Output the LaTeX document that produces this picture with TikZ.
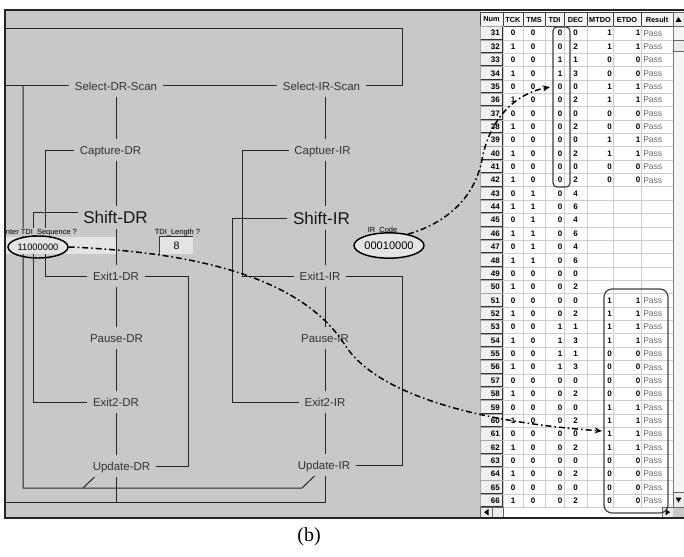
\documentclass[tikz,border=0pt]{standalone}
\usepackage{fontspec}
\setmainfont{Liberation Sans}
\newfontfamily\capfont{Liberation Serif}
\usetikzlibrary{positioning,arrows.meta,shapes.geometric,calc}

\definecolor{panel}{RGB}{200,200,200}
\definecolor{frameclr}{RGB}{35,35,35}
\definecolor{fieldclr}{RGB}{228,228,228}
\definecolor{gridclr}{RGB}{205,205,205}
\definecolor{passclr}{RGB}{105,105,105}

\begin{document}
\begin{tikzpicture}[
        x=0.75pt, y=-0.75pt,
        >={Stealth[length=5.5pt,width=4.5pt]},
        state/.style={inner xsep=4pt, inner ysep=0pt, minimum height=16pt,
                      text height=6.2pt, text depth=0pt,
                      font=\fontsize{8.6}{10}\selectfont, text=black!80},
        bigstate/.style={state, minimum height=17pt, text height=9.2pt,
                      font=\fontsize{12.8}{14}\selectfont, text=black!90},
        wire/.style={draw=black!85, line width=0.75pt},
        flow/.style={line width=1.1pt, dash pattern=on 4.5pt off 2.2pt on 1.2pt off 2.2pt},
        hint/.style={inner sep=0.5pt, font=\fontsize{5.6}{6}\selectfont},
        field/.style={fill=fieldclr, inner sep=0pt, minimum height=12.75pt},
        code/.style={ellipse, draw, line width=1.1pt, inner sep=0pt},
        hdr/.style={font=\fontsize{5.5}{6}\bfseries\selectfont, inner sep=0pt},
        cell/.style={font=\fontsize{6}{7}\bfseries\selectfont, inner sep=0pt},
        pass/.style={font=\fontsize{6.4}{7}\selectfont, text=passclr, inner sep=0pt},
        hilite/.style={draw=black!75, line width=0.9pt},
        btn/.style={fill=black!8, draw=black!60, line width=0.5pt},
    ]
    \useasboundingbox (0,0) rectangle (684,556);
    \fill[white] (0,0) rectangle (684,556);
    \fill[panel] (5,10) rectangle (480,518);

    % columns of the state diagram
    \coordinate (dr) at (116,0);   \coordinate (ir) at (325,0);
    \coordinate (dr-a) at (23,0);  \coordinate (dr-b) at (33,0);
    \coordinate (dr-c) at (45,0);  \coordinate (dr-d) at (188,0);
    \coordinate (ir-b) at (232,0); \coordinate (ir-c) at (242,0);
    \coordinate (ir-d) at (402,0);
    \coordinate (tlr) at (5,29);   \coordinate (rti-in) at (5,86);
    \coordinate (rti-out) at (5,502);
    \coordinate (ir-top) at (402,86);
    \coordinate (dr-back) at (83,488); \coordinate (ir-back) at (302,488);

    \node[state] (sel-dr) at (116,86) {Select-DR-Scan};
    \node[state] (cap-dr) at (110.5,150) {Capture-DR};
    \node[bigstate] (shift-dr) at (115.5,217.5) {Shift-DR};
    \node[state] (ex1-dr) at (116,276) {Exit1-DR};
    \node[state] (pause-dr) at (116.5,338) {Pause-DR};
    \node[state] (ex2-dr) at (116,402) {Exit2-DR};
    \node[state] (upd-dr) at (121.5,466) {Update-DR};

    \node[state] (sel-ir) at (321.5,86) {Select-IR-Scan};
    \node[state] (cap-ir) at (322.5,150) {Captuer-IR};
    \node[bigstate] (shift-ir) at (321.5,218) {Shift-IR};
    \node[state] (ex1-ir) at (320,276) {Exit1-IR};
    \node[state] (pause-ir) at (325,338) {Pause-IR};
    \node[state] (ex2-ir) at (325,402) {Exit2-IR};
    \node[state] (upd-ir) at (324,465) {Update-IR};

    \draw[wire] (sel-ir.east) -- (ir-top) |- (tlr);
    \draw[wire] (rti-in) -- (sel-dr.west);
    \draw[wire] (sel-dr.east) -- (sel-ir.west);
    \foreach \a/\b in {sel/cap, cap/shift, shift/ex1, ex1/pause, pause/ex2, ex2/upd} {
        \draw[wire] (\a-dr.south -| dr) -- (\b-dr.north -| dr);
        \draw[wire] (\a-ir.south -| ir) -- (\b-ir.north -| ir);
    }
    \draw[wire] (upd-dr.south -| dr) -- (dr |- rti-out);
    \draw[wire] (upd-ir.south -| ir) |- (rti-out);
    \draw[wire] (cap-dr.west) -| (dr-c |- ex1-dr) -- (ex1-dr.west);
    \draw[wire] ([yshift=4pt]shift-dr.west) -| (dr-b |- ex2-dr) -- (ex2-dr.west);
    \draw[wire] (ex1-dr.east) -| (dr-d |- upd-dr) -- (upd-dr.east);
    \draw[wire] (cap-ir.west) -| (ir-c |- ex1-ir) -- (ex1-ir.west);
    \draw[wire] (shift-ir.west) -| (ir-b |- ex2-ir) -- (ex2-ir.west);
    \draw[wire] (ex1-ir.east) -| (ir-d |- upd-ir) -- (upd-ir.east);
    \draw[wire] ([xshift=16.7pt]upd-ir.south west) -- (ir-back) -| (dr-a |- sel-dr);
    \draw[wire] ([xshift=5.5pt]upd-dr.south west) -- (dr-back);

    % input fields
    \node[field, minimum width=83.25pt] (seq-field) at (60.5,245.5) {};
    \node[hint, fill=panel, anchor=south west] (seq-lbl) at (5,236.5) {nter TDI\_Sequence ?};
    \node[code, minimum width=45pt, minimum height=16.5pt,
          font=\fontsize{7}{8}\selectfont] (seq) at (38,247) {11000000};
    \node[hint, fill=panel, anchor=south] (len-lbl) at (177.5,236.5) {TDI\_Length ?};
    \node[field, minimum width=24.75pt, font=\fontsize{8}{9}\selectfont] (len) at (176.5,245.5) {8};
    \draw[black!80, line width=0.8pt] (len.south west) -- (len.north west) -- (len.north east);
    \node[hint, anchor=south] (ir-lbl) at (382.5,234.5) {IR\_Code};
    \node[code, fill=fieldclr, minimum width=52.5pt, minimum height=19pt,
          font=\fontsize{8.3}{9}\selectfont] (ircode) at (389,245.5) {00010000};

    % table
    \fill[white] (480,12) rectangle (684,517);
    \foreach \xa/\xb/\lbl in {480/503/Num, 503/523/TCK, 523/545/TMS, 545/564/TDI,
                              564/587/DEC, 587/613/MTDO, 613/641/ETDO, 641/673/Result} {
        \filldraw[fill=black!4, draw=black!75, line width=0.5pt] (\xa,12) rectangle (\xb,26.5);
        \node[hdr] (h-\lbl) at ({(\xa+\xb)/2},19.5) {\lbl};
    }
    \foreach \xx in {503,523,545,564,587,613,641,673}
        \draw[gridclr, line width=0.5pt] (\xx,26.5) -- (\xx,507.5);
    \foreach \k in {1,...,36}
        \draw[gridclr, line width=0.5pt] (503,{26.5+13.36*\k}) -- (673,{26.5+13.36*\k});
    \foreach \n/\ck/\ms/\di/\dc/\mt/\et/\rs [count=\i from 0] in {
        31/0/0/0/0/1/1/Pass, 32/1/0/0/2/1/1/Pass, 33/0/0/1/1/0/0/Pass, 34/1/0/1/3/0/0/Pass,
        35/0/0/0/0/1/1/Pass, 36/1/0/0/2/1/1/Pass, 37/0/0/0/0/0/0/Pass, 38/1/0/0/2/0/0/Pass,
        39/0/0/0/0/1/1/Pass, 40/1/0/0/2/1/1/Pass, 41/0/0/0/0/0/0/Pass, 42/1/0/0/2/0/0/Pass,
        43/0/1/0/4/{}/{}/{}, 44/1/1/0/6/{}/{}/{}, 45/0/1/0/4/{}/{}/{}, 46/1/1/0/6/{}/{}/{},
        47/0/1/0/4/{}/{}/{}, 48/1/1/0/6/{}/{}/{}, 49/0/0/0/0/{}/{}/{}, 50/1/0/0/2/{}/{}/{},
        51/0/0/0/0/1/1/Pass, 52/1/0/0/2/1/1/Pass, 53/0/0/1/1/1/1/Pass, 54/1/0/1/3/1/1/Pass,
        55/0/0/1/1/0/0/Pass, 56/1/0/1/3/0/0/Pass, 57/0/0/0/0/0/0/Pass, 58/1/0/0/2/0/0/Pass,
        59/0/0/0/0/1/1/Pass, 60/1/0/0/2/1/1/Pass, 61/0/0/0/0/1/1/Pass, 62/1/0/0/2/1/1/Pass,
        63/0/0/0/0/0/0/Pass, 64/1/0/0/2/0/0/Pass, 65/0/0/0/0/0/0/Pass, 66/1/0/0/2/0/0/Pass} {
        \pgfmathsetmacro\yt{26.5+13.36*\i}
        \pgfmathsetmacro\yc{\yt+6.68}
        \filldraw[fill=black!6, draw=black!35, line width=0.4pt] (480.5,\yt) rectangle (502.5,\yt+13.36);
        \draw[black!80, line width=0.9pt] (480.5,\yt+12.8) -- (502.5,\yt+12.8) -- (502.5,\yt+0.5);
        \node[cell, anchor=east] (n\n) at (500,\yc) {\n};
        \node[cell] (ck\n) at (513,\yc) {\ck};
        \node[cell] (ms\n) at (533,\yc) {\ms};
        \node[cell] (di\n) at (560,\yc) {\di};
        \node[cell] (dc\n) at (575.5,\yc) {\dc};
        \node[cell, anchor=east] (mt\n) at (612,\yc) {\mt};
        \node[cell, anchor=east] (et\n) at (640.5,\yc) {\et};
        \node[pass, anchor=west] (rs\n) at (643,\yc) {\rs};
    }
    % scroll bars
    \fill[black!4] (673,26.5) rectangle (684,507.5);
    \draw[black!50, line width=0.5pt] (673,26.5) -- (673,507.5);
    \filldraw[btn] (673,12) rectangle (684,26.5);
    \fill (675.5,22) -- (681.5,22) -- (678.5,17) -- cycle;
    \filldraw[btn] (673,40) rectangle (684,51);
    \filldraw[btn] (673,492) rectangle (684,507.5);
    \fill (675.5,497.5) -- (681.5,497.5) -- (678.5,502.5) -- cycle;
    \fill[white] (480,507.5) rectangle (673,517);
    \filldraw[btn] (480.5,507.5) rectangle (492,517);
    \fill (484,512.2) -- (488.5,509) -- (488.5,515.4) -- cycle;
    \filldraw[btn] (492,507.5) rectangle (503,517);
    \filldraw[btn] (662,507.5) rectangle (673,517);
    \fill (670,512.2) -- (665.5,509) -- (665.5,515.4) -- cycle;
    \fill[panel] (673,507.5) rectangle (684,517);

    \draw[hilite, rounded corners=3pt] (553,27) rectangle (570,187);
    \draw[hilite, rounded corners=6pt] (604,289) rectangle (668,513);

    \draw[frameclr, line width=1.9pt] (684,10) -- (5,10) -- (5,518) -- (684,518);

    % links from the codes to the table
    \coordinate (tdi-hit) at (550,87);
    \coordinate (mtdo-hit) at (602,431);
    \draw[flow, ->] (seq.east) .. controls (190,252) and (300,275) .. (345,345)
        .. controls (370,385) and (450,420) .. (mtdo-hit);
    \draw[flow, ->] (ircode.31) .. controls (450,222) and (475,195) .. (482,160)
        .. controls (488,125) and (510,95) .. (tdi-hit);

    \node[font=\capfont\fontsize{15}{17}\selectfont, inner sep=0pt] (caption) at (309,537) {(b)};
\end{tikzpicture}
\end{document}
